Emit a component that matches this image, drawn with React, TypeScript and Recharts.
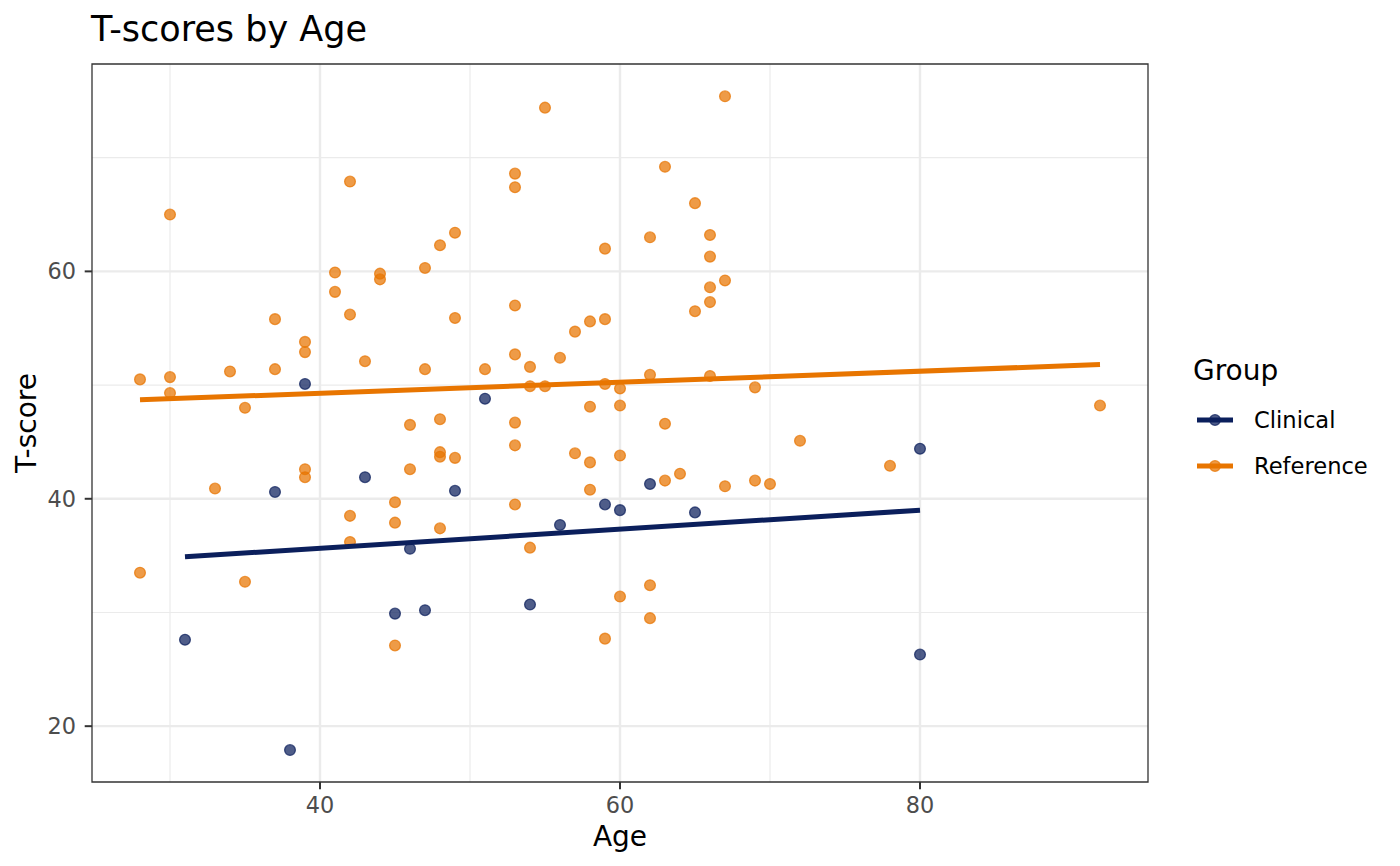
import React from 'react';
import { ScatterChart, Scatter, XAxis, YAxis, CartesianGrid, ReferenceArea } from 'recharts';

// ---- data ----
const clinicalAge = [31, 37, 38, 39, 43, 45, 46, 47, 49, 51, 54, 56, 59, 60, 62, 65, 80, 80];
const clinicalT = [27.6, 40.6, 17.9, 50.1, 41.9, 29.9, 35.6, 30.2, 40.7, 48.8, 30.7, 37.7, 39.5, 39.0, 41.3, 38.8, 44.4, 26.3];

const referenceAge = [
  28, 28,
  30, 30, 30,
  33,
  34,
  35, 35,
  37, 37,
  39, 39, 39, 39,
  41, 41,
  42, 42, 42, 42,
  43,
  44, 44,
  45, 45, 45,
  46, 46,
  47, 47,
  48, 48, 48, 48, 48,
  49, 49, 49,
  51,
  53, 53, 53, 53, 53, 53, 53,
  54, 54, 54,
  55, 55,
  56,
  57, 57,
  58, 58, 58, 58,
  59, 59, 59, 59,
  60, 60, 60, 60,
  62, 62, 62, 62,
  63, 63, 63,
  64,
  65, 65,
  66, 66, 66, 66, 66,
  67, 67, 67,
  69, 69,
  70,
  72,
  78,
  92,
];
const referenceT = [
  50.5, 33.5,
  65.0, 50.7, 49.3,
  40.9,
  51.2,
  48.0, 32.7,
  55.8, 51.4,
  53.8, 52.9, 42.6, 41.9,
  59.9, 58.2,
  67.9, 56.2, 38.5, 36.2,
  52.1,
  59.8, 59.3,
  39.7, 37.9, 27.1,
  46.5, 42.6,
  60.3, 51.4,
  62.3, 47.0, 44.1, 43.7, 37.4,
  63.4, 55.9, 43.6,
  51.4,
  68.6, 67.4, 57.0, 52.7, 46.7, 44.7, 39.5,
  51.6, 49.9, 35.7,
  74.4, 49.9,
  52.4,
  54.7, 44.0,
  55.6, 48.1, 43.2, 40.8,
  62.0, 55.8, 50.1, 27.7,
  49.7, 48.2, 43.8, 31.4,
  63.0, 50.9, 32.4, 29.5,
  69.2, 46.6, 41.6,
  42.2,
  66.0, 56.5,
  63.2, 61.3, 58.6, 57.3, 50.8,
  75.4, 59.2, 41.1,
  49.8, 41.6,
  41.3,
  45.1,
  42.9,
  48.2,
];

// fitted (linear) trend lines, end points
const clinicalFitAge = [31, 80];
const clinicalFitT = [34.9, 39.0];
const referenceFitAge = [28, 92];
const referenceFitT = [48.7, 51.8];

const xTicks = [40, 60, 80];
const yTicks = [20, 40, 60];
const xMinor = [30, 50, 70];
const yMinor = [30, 50, 70];
const xDomain = [24.8, 95.2];
const yDomain = [15.09, 78.24];

const groups = ['Clinical', 'Reference'];

// ---- styling ----
const NAVY = '#0B1F5C';
const ORANGE = '#E87500';
const GRID = '#EBEBEB';
const FONT = '"DejaVu Sans", sans-serif';

const toPoints = (xs: number[], ys: number[]) => xs.map((x, i) => ({ age: x, t: ys[i] }));

const clinicalData = toPoints(clinicalAge, clinicalT);
const referenceData = toPoints(referenceAge, referenceT);
const clinicalFit = toPoints(clinicalFitAge, clinicalFitT);
const referenceFit = toPoints(referenceFitAge, referenceFitT);

const makeDot = (color: string) => (props: any) => {
  const { cx, cy } = props;
  if (cx == null || cy == null) return <g />;
  return (
    <circle
      cx={cx}
      cy={cy}
      r={5.4}
      fill={color}
      fillOpacity={0.72}
      stroke={color}
      strokeOpacity={0.72}
      strokeWidth={1.3}
    />
  );
};

const noShape = () => <g />;

const XLabel = (props: any) => {
  const vb = props.viewBox || {};
  return (
    <text
      x={vb.x + vb.width / 2}
      y={vb.y + vb.height - 0.3}
      textAnchor="middle"
      fontSize={28}
      fill="#000"
      fontFamily={FONT}
    >
      Age
    </text>
  );
};

const YLabel = (props: any) => {
  const vb = props.viewBox || {};
  const x = vb.x + 24;
  const y = vb.y + vb.height / 2;
  return (
    <text
      x={x}
      y={y}
      transform={`rotate(-90, ${x}, ${y})`}
      textAnchor="middle"
      fontSize={28}
      fill="#000"
      fontFamily={FONT}
    >
      T-score
    </text>
  );
};

const tickStyle = { fill: '#4D4D4D', fontSize: 22.4, fontFamily: FONT };
const tickLineStyle = { stroke: '#333333', strokeWidth: 2 };

export default function App() {
  const legendColors = [NAVY, ORANGE];
  return (
    <div
      style={{
        position: 'absolute',
        left: 0,
        top: 0,
        width: 1400,
        height: 866,
        background: '#fff',
        fontFamily: FONT,
      }}
    >
      <ScatterChart
        width={1400}
        height={866}
        margin={{ top: 64, right: 252, bottom: 20, left: 12 }}
      >
        <CartesianGrid
          stroke={GRID}
          strokeWidth={1.2}
          verticalValues={xMinor}
          horizontalValues={yMinor}
        />
        <CartesianGrid
          stroke={GRID}
          strokeWidth={2.4}
          verticalValues={xTicks}
          horizontalValues={yTicks}
        />
        <XAxis
          type="number"
          dataKey="age"
          domain={xDomain}
          allowDataOverflow
          ticks={xTicks}
          height={64}
          axisLine={false}
          tickLine={tickLineStyle}
          tickSize={7.3}
          tickMargin={7.7}
          tick={tickStyle}
          label={<XLabel />}
        />
        <YAxis
          type="number"
          dataKey="t"
          domain={yDomain}
          allowDataOverflow
          ticks={yTicks}
          width={80}
          axisLine={false}
          tickLine={tickLineStyle}
          tickSize={7.3}
          tickMargin={8.7}
          tick={tickStyle}
          label={<YLabel />}
        />
        <Scatter
          name={groups[0]}
          data={clinicalData}
          shape={makeDot(NAVY)}
          isAnimationActive={false}
        />
        <Scatter
          name={groups[1]}
          data={referenceData}
          shape={makeDot(ORANGE)}
          isAnimationActive={false}
        />
        <Scatter
          data={clinicalFit}
          fill={NAVY}
          line={{ stroke: NAVY, strokeWidth: 5 }}
          shape={noShape}
          isAnimationActive={false}
        />
        <Scatter
          data={referenceFit}
          fill={ORANGE}
          line={{ stroke: ORANGE, strokeWidth: 5 }}
          shape={noShape}
          isAnimationActive={false}
        />
        <ReferenceArea
          x1={xDomain[0]}
          x2={xDomain[1]}
          y1={yDomain[0]}
          y2={yDomain[1]}
          fill="none"
          fillOpacity={0}
          stroke="#333333"
          strokeWidth={1.3}
          ifOverflow="visible"
        />
      </ScatterChart>
      <svg
        width={1400}
        height={866}
        style={{ position: 'absolute', left: 0, top: 0, pointerEvents: 'none' }}
      >
        <text x={91} y={40.8} fontSize={35} fill="#000" fontFamily={FONT}>
          T-scores by Age
        </text>
        <text x={1193} y={380} fontSize={28} fill="#000" fontFamily={FONT}>
          Group
        </text>
        {groups.map((g, i) => {
          const cy = 420 + i * 46;
          const c = legendColors[i];
          return (
            <g key={g}>
              <circle cx={1215} cy={cy} r={5.4} fill={c} fillOpacity={0.72} stroke={c} strokeOpacity={0.72} strokeWidth={1.3} />
              <line x1={1197} x2={1233} y1={cy} y2={cy} stroke={c} strokeWidth={5} />
              <text x={1254} y={cy + 8} fontSize={22.6} fill="#000" fontFamily={FONT}>
                {g}
              </text>
            </g>
          );
        })}
      </svg>
    </div>
  );
}
